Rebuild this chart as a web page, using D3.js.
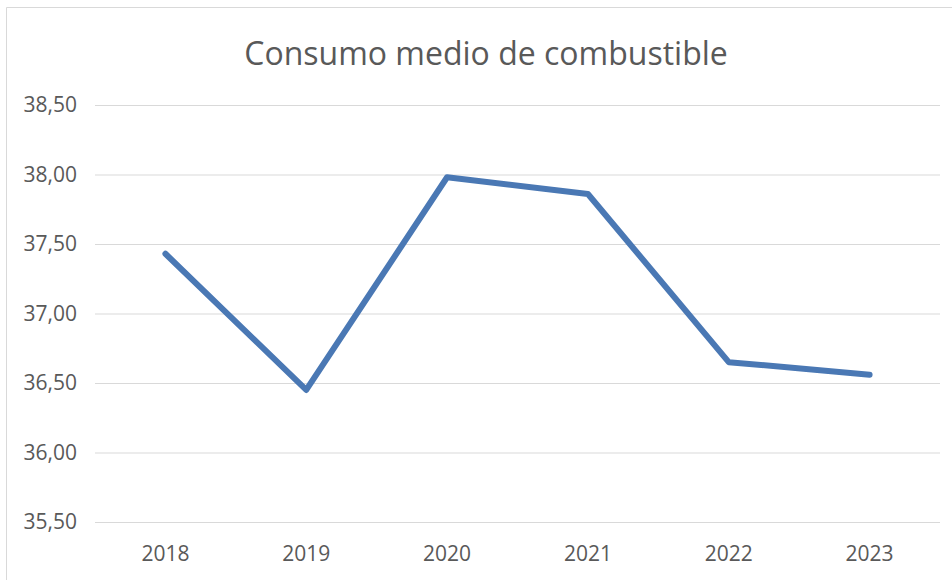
<!DOCTYPE html>
<html>
<head>
<meta charset="utf-8">
<script src="https://cdn.jsdelivr.net/npm/d3@7"></script>
<style>
  html, body { margin: 0; padding: 0; background: #fff; }
  svg { display: block; }
</style>
</head>
<body>
<div id="chart"></div>
<script>
const TITLE = "Consumo medio de combustible";
const YEARS = ["2018", "2019", "2020", "2021", "2022", "2023"];
const CONSUMO = [37.43, 36.45, 37.98, 37.86, 36.65, 36.56];
const Y_TICKS = [35.5, 36.0, 36.5, 37.0, 37.5, 38.0, 38.5];

const width = 952, height = 580;
const margin = { top: 105, right: 12, bottom: 58, left: 95 };
const innerWidth = width - margin.left - margin.right;
const innerHeight = height - margin.top - margin.bottom;
const textColor = "#595959";
const fontFamily = "'Open Sans', 'Liberation Sans', sans-serif";

const svg = d3.select("#chart").append("svg")
  .attr("width", width)
  .attr("height", height);

// marco del gráfico (solo se ven el borde superior e izquierdo)
svg.append("path")
  .attr("d", `M6.5,${height} V7.5 H${width}`)
  .attr("fill", "none")
  .attr("stroke", "#d9d9d9");

svg.append("text")
  .attr("x", 486)
  .attr("y", 65)
  .attr("text-anchor", "middle")
  .attr("fill", textColor)
  .attr("font-family", fontFamily)
  .attr("font-size", 32)
  .text(TITLE);

const g = svg.append("g")
  .attr("transform", `translate(${margin.left}, ${margin.top})`);

const x = d3.scaleBand()
  .domain(YEARS)
  .range([0, innerWidth]);

const y = d3.scaleLinear()
  .domain([35.5, 38.5])
  .range([innerHeight, 0]);

const fmt = v => d3.format(".2f")(v).replace(".", ",");

// líneas de la cuadrícula + etiquetas
const yAxis = d3.axisLeft(y)
  .tickValues(Y_TICKS)
  .tickSize(-innerWidth)
  .tickPadding(18)
  .tickFormat(fmt);

g.append("g")
  .call(yAxis)
  .call(a => a.select(".domain").remove())
  .call(a => a.selectAll("line").attr("stroke", "#d9d9d9").attr("stroke-width", 1))
  .call(a => a.selectAll("text")
    .attr("fill", textColor)
    .attr("font-family", fontFamily)
    .attr("font-size", 21));

const xAxis = d3.axisBottom(x).tickSize(0).tickPadding(24);
g.append("g")
  .attr("transform", `translate(0, ${innerHeight})`)
  .call(xAxis)
  .call(a => a.select(".domain").remove())
  .call(a => a.selectAll("text")
    .attr("fill", textColor)
    .attr("font-family", fontFamily)
    .attr("font-size", 21));

const line = d3.line()
  .x((d, i) => x(YEARS[i]) + x.bandwidth() / 2)
  .y(d => y(d));

g.append("path")
  .datum(CONSUMO)
  .attr("d", line)
  .attr("fill", "none")
  .attr("stroke", "#4a78b4")
  .attr("stroke-width", 6)
  .attr("stroke-linejoin", "round")
  .attr("stroke-linecap", "round");
</script>
</body>
</html>
